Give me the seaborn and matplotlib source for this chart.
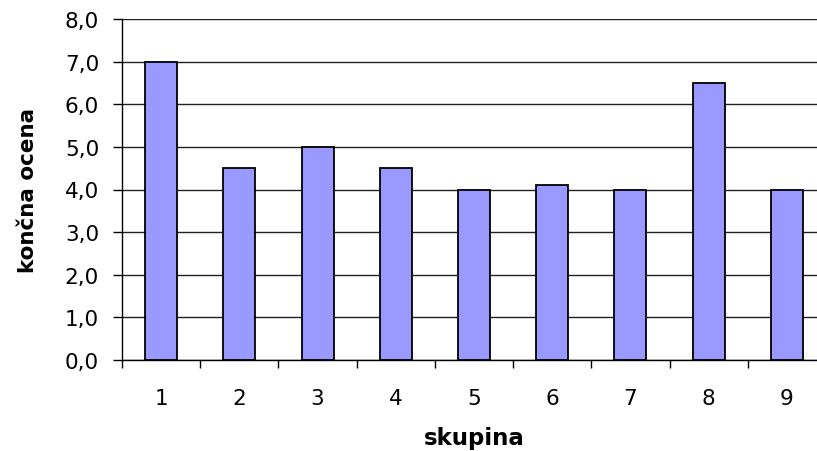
import matplotlib
matplotlib.use("Agg")
import matplotlib.pyplot as plt
import seaborn as sns
import pandas as pd
import numpy as np
from matplotlib.ticker import FixedLocator, FuncFormatter

categories = ["1", "2", "3", "4", "5", "6", "7", "8", "9"]
values = [7.0, 4.5, 5.0, 4.5, 4.0, 4.1, 4.0, 6.5, 4.0]
yticks = [0, 1, 2, 3, 4, 5, 6, 7, 8]

sns.set_style("white")
plt.rcParams["font.family"] = ["DejaVu Sans"]

df = pd.DataFrame({"skupina": categories, "ocena": values})

fig = plt.figure(figsize=(8.17, 4.52), dpi=100)
ax = fig.add_axes([122/817, 1-361/452, 704/817, 341/452])

sns.barplot(data=df, x="skupina", y="ocena", color="#9999FF", edgecolor="black",
            linewidth=1.3, width=0.41, saturation=1, ax=ax, zorder=3)

ax.set_xlim(-0.5, len(categories) - 0.5)
ax.set_ylim(0, 8)
ax.set_yticks(yticks)
ax.yaxis.set_major_formatter(FuncFormatter(lambda v, p: f"{v:.1f}".replace(".", ",")))
ax.yaxis.grid(True, color="#222222", linewidth=1.0, zorder=0)
ax.set_axisbelow(True)

ax.xaxis.set_minor_locator(FixedLocator(np.arange(-0.5, len(categories), 1.0)))
ax.tick_params(axis="x", which="major", length=0, pad=20, labelsize=15.5, colors="black")
ax.tick_params(axis="x", which="minor", length=6, width=1, direction="out", bottom=True, color="black")
ax.tick_params(axis="y", which="major", length=6.5, width=1, direction="out", left=True,
               pad=10, labelsize=15.5, colors="black")

for s in ["top", "right"]:
    ax.spines[s].set_visible(False)
ax.spines["left"].set_color("black")
ax.spines["bottom"].set_color("black")
ax.spines["left"].set_linewidth(1)
ax.spines["bottom"].set_linewidth(1)

ax.set_xlabel("skupina", fontsize=16.5, fontweight="bold", labelpad=13, color="black")
ax.set_ylabel("končna ocena", fontsize=15.5, fontweight="bold", labelpad=19, color="black")

fig.savefig("out.png", dpi=100)
